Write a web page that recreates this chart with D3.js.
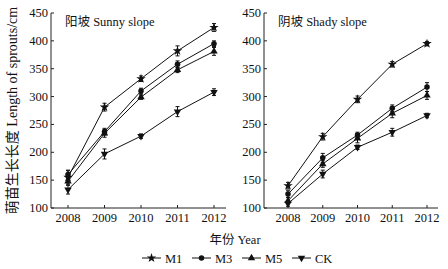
<!DOCTYPE html>
<html>
<head>
<meta charset="utf-8">
<script src="https://cdn.jsdelivr.net/npm/d3@7"></script>
<style>
  body { margin: 0; background: #fff; }
  text { font-family: "Liberation Serif", "Noto Sans CJK SC", serif; fill: #111; }
</style>
</head>
<body>
<div id="chart"></div>
<script>
const years = [2008, 2009, 2010, 2011, 2012];
const yTicks = [100, 150, 200, 250, 300, 350, 400, 450];
const seriesNames = ["M1", "M3", "M5", "CK"];

// sunny slope
const sunnyM1 = [155, 281, 332, 382, 424];
const sunnyM3 = [160, 237, 310, 358, 395];
const sunnyM5 = [148, 234, 299, 348, 381];
const sunnyCK = [133, 197, 229, 273, 308];
const sunnyErr = [[12, 7, 5, 9, 7], [8, 6, 5, 6, 5], [7, 7, 4, 5, 7], [8, 9, 4, 9, 6]];

// shady slope
const shadyM1 = [140, 228, 295, 358, 395];
const shadyM3 = [125, 190, 231, 279, 317];
const shadyM5 = [113, 179, 225, 270, 302];
const shadyCK = [108, 161, 209, 236, 266];
const shadyErr = [[6, 6, 6, 5, 4], [6, 8, 5, 6, 8], [6, 6, 8, 8, 7], [5, 7, 4, 7, 4]];

const W = 448, H = 269;
const svg = d3.select("#chart").append("svg")
    .attr("width", W).attr("height", H);

const y = d3.scaleLinear().domain([100, 450]).range([208, 13]);

const symbols = [
  d3.symbol().type(d3.symbolStar).size(28),
  d3.symbol().type(d3.symbolCircle).size(24),
  d3.symbol().type(d3.symbolTriangle).size(24),
  d3.symbol().type(d3.symbolTriangle).size(24)
];
const rotations = [0, 0, 0, 180];

function panel(axisX, x0, x1, xEnd, title, series, errs) {
  const x = d3.scalePoint().domain(years).range([x0, x1]);
  const g = svg.append("g");

  // axes
  g.append("line").attr("x1", axisX).attr("x2", axisX).attr("y1", 13).attr("y2", 208)
    .attr("stroke", "#222").attr("stroke-width", 1);
  g.append("line").attr("x1", axisX).attr("x2", xEnd).attr("y1", 208).attr("y2", 208)
    .attr("stroke", "#222").attr("stroke-width", 1);

  yTicks.forEach(t => {
    g.append("line").attr("x1", axisX).attr("x2", axisX + 3)
      .attr("y1", y(t)).attr("y2", y(t)).attr("stroke", "#222");
    g.append("text").attr("x", axisX - 3).attr("y", y(t) + 4)
      .attr("text-anchor", "end").style("font-size", "12.5px").text(t);
  });
  years.forEach(yr => {
    g.append("line").attr("x1", x(yr)).attr("x2", x(yr))
      .attr("y1", 208).attr("y2", 205).attr("stroke", "#222");
    g.append("text").attr("x", x(yr)).attr("y", 222)
      .attr("text-anchor", "middle").style("font-size", "12.5px").text(yr);
  });

  g.append("text").attr("x", axisX + 14).attr("y", 26)
    .style("font-size", "12.5px").text(title);

  const line = d3.line().x((d, i) => x(years[i])).y(d => y(d));

  series.forEach((vals, s) => {
    g.append("path").datum(vals).attr("d", line)
      .attr("fill", "none").attr("stroke", "#111").attr("stroke-width", 1);
    vals.forEach((v, i) => {
      const e = errs[s][i], cx = x(years[i]);
      g.append("path")
        .attr("d", `M${cx},${y(v - e)}V${y(v + e)}M${cx - 2},${y(v - e)}H${cx + 2}M${cx - 2},${y(v + e)}H${cx + 2}`)
        .attr("stroke", "#111").attr("stroke-width", 1).attr("fill", "none");
    });
    g.selectAll(null).data(vals).enter().append("path")
      .attr("d", symbols[s])
      .attr("transform", (d, i) => `translate(${x(years[i])},${y(d)}) rotate(${rotations[s]})`)
      .attr("fill", "#111");
  });
}

panel(51, 68, 214, 226, "阳坡  Sunny slope",
  [sunnyM1, sunnyM3, sunnyM5, sunnyCK], sunnyErr);
panel(264, 288, 427, 438, "阴坡 Shady slope",
  [shadyM1, shadyM3, shadyM5, shadyCK], shadyErr);

// y label
svg.append("text")
  .attr("transform", `translate(17,${(13 + 208) / 2}) rotate(-90)`)
  .attr("text-anchor", "middle")
  .style("font-size", "14px")
  .text("萌苗生长长度 Length of sprouts/cm");

// x label
svg.append("text").attr("x", 235).attr("y", 244)
  .attr("text-anchor", "middle").style("font-size", "12.5px").text("年份 Year");

// legend
const legendX = [142, 192, 242, 292];
seriesNames.forEach((name, s) => {
  const lx = legendX[s], ly = 258;
  svg.append("line").attr("x1", lx).attr("x2", lx + 19).attr("y1", ly).attr("y2", ly)
    .attr("stroke", "#111").attr("stroke-width", 1);
  svg.append("path").attr("d", symbols[s])
    .attr("transform", `translate(${lx + 9.5},${ly}) rotate(${rotations[s]})`)
    .attr("fill", "#111");
  svg.append("text").attr("x", lx + 23).attr("y", ly + 4.5)
    .style("font-size", "12.5px").text(name);
});
</script>
</body>
</html>
